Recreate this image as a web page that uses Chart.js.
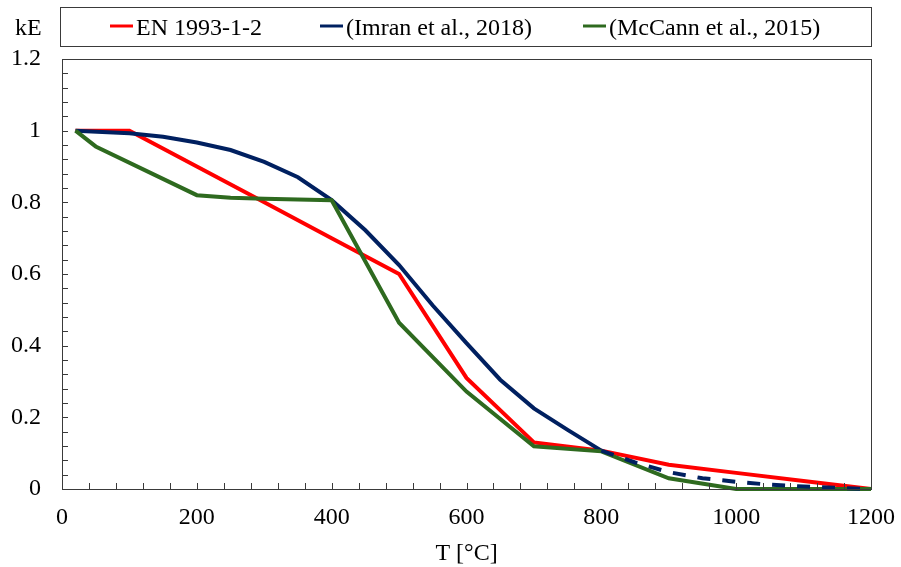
<!DOCTYPE html>
<html>
<head>
<meta charset="utf-8">
<script src="https://cdn.jsdelivr.net/npm/chart.js@4/dist/chart.umd.min.js"></script>
<style>
html,body{margin:0;padding:0;background:#fff;}
#wrap{width:901px;height:567px;}
</style>
</head>
<body>
<div id="wrap"><canvas id="c" width="901" height="567"></canvas></div>
<script>
// ---- data ----
const seriesNames = ["EN 1993-1-2", "(Imran et al., 2018)", "(McCann et al., 2015)"];
const enT   = [20, 100, 200, 300, 400, 500, 600, 700, 800, 900, 1000, 1100, 1200];
const enKE  = [1.0, 1.0, 0.9, 0.8, 0.7, 0.6, 0.31, 0.13, 0.107, 0.0675, 0.045, 0.0225, 0.0];
const imT   = [20, 100, 150, 200, 250, 300, 350, 400, 450, 500, 550, 600, 650, 700, 750, 800];
const imKE  = [1.0, 0.993, 0.983, 0.967, 0.946, 0.913, 0.870, 0.806, 0.722, 0.625, 0.512, 0.407, 0.305, 0.225, 0.165, 0.107];
const imExtT  = [800, 850, 900, 950, 1000, 1050, 1100, 1150, 1200];
const imExtKE = [0.107, 0.074, 0.047, 0.030, 0.020, 0.012, 0.007, 0.003, 0.0];
const mcT   = [20, 50, 200, 250, 300, 350, 400, 500, 600, 700, 800, 900, 1000, 1100, 1200];
const mcKE  = [1.0, 0.956, 0.82, 0.813, 0.81, 0.808, 0.806, 0.464, 0.272, 0.119, 0.105, 0.03, 0.0, 0.0, 0.0];
const xTickValues = [0, 200, 400, 600, 800, 1000, 1200];
const yTickValues = [0, 0.2, 0.4, 0.6, 0.8, 1.0, 1.2];
const xAxisTitle = "T [°C]";
const yAxisTitle = "kE";

const colors = ["#ff0000", "#002060", "#2e6a1f"];
const FONT = "'Liberation Serif', 'Times New Roman', serif";

function pts(xs, ys){ return xs.map((x,i)=>({x:x, y:ys[i]})); }

const frameAndTicks = {
  id: 'frameAndTicks',
  afterDatasetsDraw(chart){
    const {ctx, chartArea:a, scales} = chart;
    ctx.save();
    ctx.strokeStyle = '#3a3a3a';
    ctx.lineWidth = 1;
    ctx.beginPath();
    for (let v = 0; v <= 1200; v += 40){
      const px = Math.round(scales.x.getPixelForValue(v)) + 0.5;
      ctx.moveTo(px, a.bottom); ctx.lineTo(px, a.bottom - 6);
    }
    for (let i = 0; i <= 30; i++){
      const py = Math.round(scales.y.getPixelForValue(i*0.04)) + 0.5;
      ctx.moveTo(a.left, py); ctx.lineTo(a.left + 6, py);
    }
    ctx.stroke();
    ctx.strokeRect(Math.round(a.left)+0.5, Math.round(a.top)+0.5, Math.round(a.right-a.left), Math.round(a.bottom-a.top));
    ctx.restore();
  },
  afterDraw(chart){
    const {ctx, chartArea:a} = chart;
    ctx.save();
    ctx.strokeStyle = '#3a3a3a';
    ctx.lineWidth = 1;
    ctx.strokeRect(60.5, 7.5, 811, 39);
    ctx.font = "24px " + FONT;
    ctx.fillStyle = '#000';
    ctx.textBaseline = 'alphabetic';
    const starts = [110, 320, 583];
    chart.data.datasets.slice(0,3).forEach((ds, i) => {
      const x0 = starts[i];
      ctx.strokeStyle = ds.borderColor;
      ctx.lineWidth = 3;
      ctx.beginPath(); ctx.moveTo(x0, 26); ctx.lineTo(x0 + 23, 26); ctx.stroke();
      ctx.fillText(ds.label, x0 + 26, 35);
    });
    ctx.textAlign = 'left';
    ctx.fillText(yAxisTitle, 15, 35);
    ctx.textAlign = 'center';
    ctx.fillText(xAxisTitle, (a.left + a.right)/2, 560);
    ctx.restore();
  }
};

new Chart(document.getElementById('c'), {
  type: 'line',
  data: {
    datasets: [
      {label: seriesNames[0], data: pts(enT, enKE), borderColor: colors[0], backgroundColor: colors[0], borderWidth: 4, pointRadius: 0, tension: 0, clip: false, order: 4},
      {label: seriesNames[1], data: pts(imT, imKE), borderColor: colors[1], backgroundColor: colors[1], borderWidth: 4, pointRadius: 0, tension: 0, clip: false, order: 3},
      {label: seriesNames[2], data: pts(mcT, mcKE), borderColor: colors[2], backgroundColor: colors[2], borderWidth: 4, pointRadius: 0, tension: 0, clip: false, order: 2},
      {label: seriesNames[1] + " ext", data: pts(imExtT, imExtKE), borderColor: colors[1], backgroundColor: colors[1], borderWidth: 4, borderDash: [13, 12], pointRadius: 0, tension: 0, clip: false, order: 1}
    ]
  },
  options: {
    responsive: false,
    devicePixelRatio: 1,
    animation: false,
    layout: {padding: {top: 59, right: 30, left: 0, bottom: 0}},
    plugins: {legend: {display: false}, tooltip: {enabled: false}},
    scales: {
      x: {
        type: 'linear', min: 0, max: 1200,
        afterFit(s){ s.height = 78; s.paddingRight = 0; s.paddingLeft = 0; },
        afterBuildTicks(s){ s.ticks = xTickValues.map(v => ({value: v})); },
        grid: {display: false, drawTicks: false},
        border: {display: false},
        ticks: {font: {family: FONT, size: 24}, color: '#000', padding: 14, maxRotation: 0, autoSkip: false,
                callback: v => String(v)}
      },
      y: {
        type: 'linear', min: 0, max: 1.2,
        afterFit(s){ s.width = 62; },
        afterBuildTicks(s){ s.ticks = yTickValues.map(v => ({value: v})); },
        grid: {display: false, drawTicks: false},
        border: {display: false},
        ticks: {font: {family: FONT, size: 24}, color: '#000', padding: 21, autoSkip: false,
                callback: v => String(Math.round(v*10)/10)}
      }
    }
  },
  plugins: [frameAndTicks]
});
</script>
</body>
</html>
